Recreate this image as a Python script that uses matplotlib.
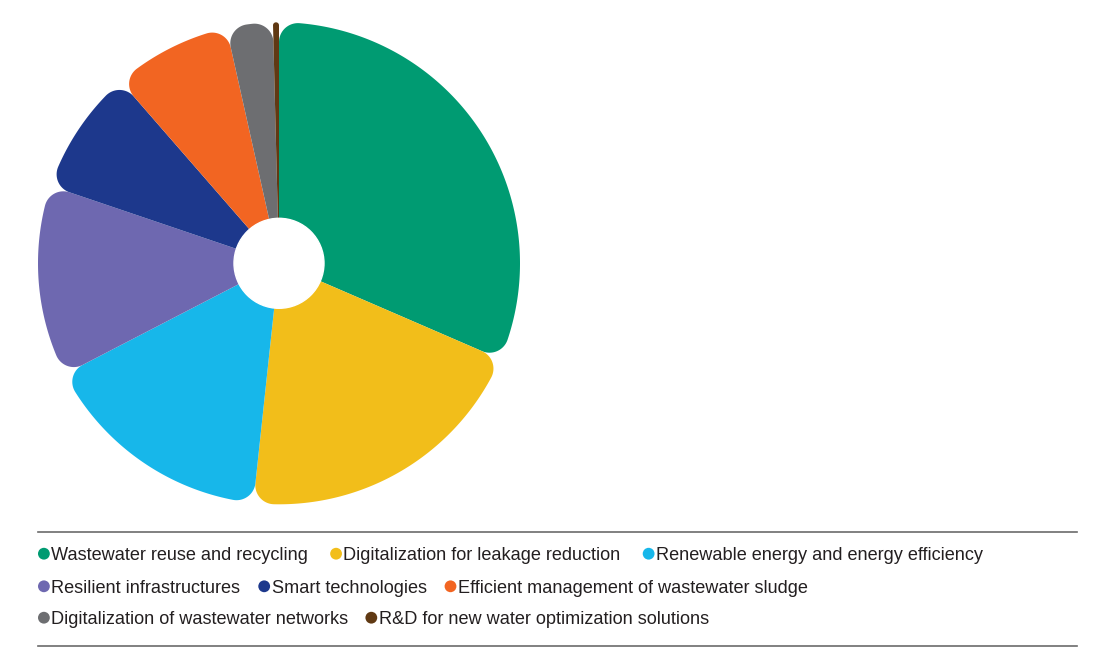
import numpy as np
import matplotlib
matplotlib.use("Agg")
import matplotlib.pyplot as plt
from matplotlib.patches import Polygon, Circle
from matplotlib.lines import Line2D

categories = [
    "Wastewater reuse and recycling",
    "Digitalization for leakage reduction",
    "Renewable energy and energy efficiency",
    "Resilient infrastructures",
    "Smart technologies",
    "Efficient management of wastewater sludge",
    "Digitalization of wastewater networks",
    "R&D for new water optimization solutions",
]
shares = [31.5, 20.2, 15.7, 12.8, 8.4, 7.9, 3.1, 0.4]
colors = ["#009B72", "#F2BE1A", "#17B7EA", "#6E68B0",
          "#1D388C", "#F26522", "#6D6E71", "#603913"]
legend_rows = [[0, 1, 2], [3, 4, 5], [6, 7]]

W, H = 1093, 668
plt.rcParams['font.family'] = ['Liberation Sans', 'DejaVu Sans']

fig = plt.figure(figsize=(W / 100, H / 100), dpi=100)
ax = fig.add_axes([0, 0, 1, 1])

# pie laid out in pixel units
cx, cy, R = 279, H - 263.3, 241
wedges, _ = ax.pie(shares, colors=colors, startangle=90, counterclock=False,
                   center=(cx, cy), radius=R)
ax.set_xlim(0, W)
ax.set_ylim(0, H)
ax.set_aspect('equal')
ax.axis('off')


def rounded_wedge(center, r_out, t1, t2, rc):
    half = np.radians(t2 - t1) / 2
    rc = min(rc, r_out * np.sin(half) / (1 + np.sin(half)))
    d = np.arcsin(rc / (r_out - rc))
    a1, a2 = np.radians(t1), np.radians(t2)
    pts = [(0.0, 0.0)]
    c1 = (r_out - rc) * np.array([np.cos(a1 + d), np.sin(a1 + d)])
    for a in np.linspace(a1 - np.pi / 2, a1 + d, 30):
        pts.append(c1 + rc * np.array([np.cos(a), np.sin(a)]))
    for a in np.linspace(a1 + d, a2 - d, 200):
        pts.append(r_out * np.array([np.cos(a), np.sin(a)]))
    c2 = (r_out - rc) * np.array([np.cos(a2 - d), np.sin(a2 - d)])
    for a in np.linspace(a2 - d, a2 + np.pi / 2, 30):
        pts.append(c2 + rc * np.array([np.cos(a), np.sin(a)]))
    return np.array(pts) + np.array(center)


for w in wedges:
    w.set_visible(False)
    ax.add_patch(Polygon(rounded_wedge(w.center, w.r, w.theta1, w.theta2, 19),
                         closed=True, facecolor=w.get_facecolor(), lw=0))
ax.add_patch(Circle((cx, cy), 45, color='white', zorder=5))

# legend rules
for y in (H - 531.5, H - 646):
    ax.add_line(Line2D([38, 1077], [y, y], color='#6b6b6b', lw=1.2))

# flowing legend
renderer = fig.canvas.get_renderer()
row_center = [H - 553.7, H - 586.3, H - 617.7]
row_gap = [22, 18, 17]
mr = 5.9
for row, yc, gap in zip(legend_rows, row_center, row_gap):
    x = 38
    for i in row:
        ax.add_patch(Circle((x + mr, yc), mr, color=colors[i], lw=0))
        x += 2 * mr + 1.5
        t = ax.text(x, yc - 6.6, categories[i], fontsize=13.05, color='#231F20',
                    ha='left', va='baseline')
        x += t.get_window_extent(renderer).width + gap

fig.savefig("out.png", dpi=100)
